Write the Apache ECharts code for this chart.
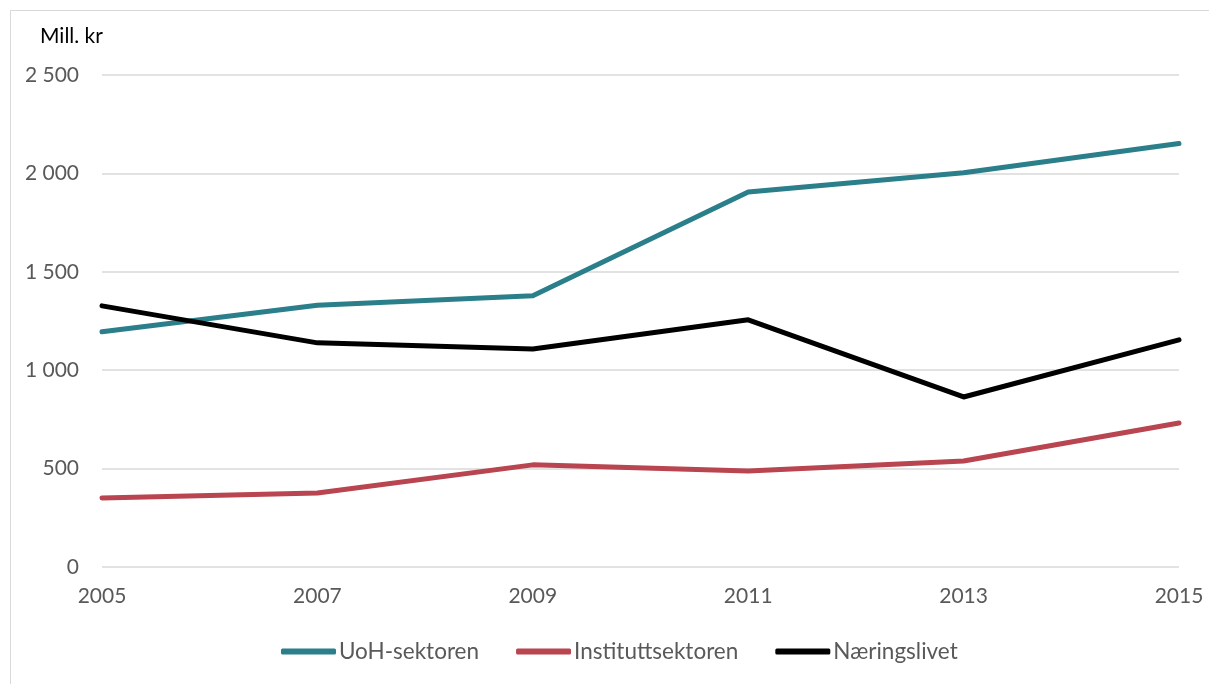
<!DOCTYPE html>
<html><head><meta charset="utf-8">
<script src="https://cdn.jsdelivr.net/npm/echarts@6/dist/echarts.min.js"></script>
<style>
html,body{margin:0;padding:0;background:#fff;}
#frame{position:absolute;left:10px;top:10px;width:1300px;height:800px;border:1.5px solid #d9d9d9;box-sizing:border-box;}
#c{position:absolute;left:0;top:0;width:1209px;height:684px;}
</style></head>
<body><div id="frame"></div><div id="c"></div>
<script>
const years = ['2005','2007','2009','2011','2013','2015'];
const uoh = [1195, 1330, 1378, 1905, 2003, 2152];
const institutt = [351, 376, 519, 488, 539, 732];
const naering = [1327, 1139, 1108, 1256, 864, 1154];
const seriesNames = ['UoH-sektoren','Instituttsektoren','Næringslivet'];
const colors = ['#2a7f8a','#b8454f','#000000'];
const font = 'Lato, "Open Sans", sans-serif';
const chart = echarts.init(document.getElementById('c'));
const mk = (name, data, color) => ({
  name, type:'line', data, symbol:'none', smooth:false,
  lineStyle:{width:5, color, cap:'round', join:'round'}, itemStyle:{color}
});
chart.setOption({
  animation:false,
  color: colors,
  grid:{left:102, right:30, top:75, bottom:117, containLabel:false},
  title:{text:'Mill. kr', left:35, top:21, textStyle:{fontFamily:font, fontSize:21, fontWeight:'normal', color:'#000'}},
  legend:{
    bottom:16, left:276, itemWidth:55, itemHeight:6, itemGap:37, icon:'roundRect',
    textStyle:{fontFamily:font, fontSize:22.5, color:'#595959', padding:[0,0,0,-2]},
    data: seriesNames
  },
  xAxis:{type:'category', data:years, boundaryGap:false,
    axisLine:{show:false}, axisTick:{show:false},
    axisLabel:{fontFamily:font, fontSize:21, color:'#595959', margin:19},
    splitLine:{show:false}},
  yAxis:{type:'value', min:0, max:2500, interval:500,
    axisLine:{show:false}, axisTick:{show:false},
    axisLabel:{fontFamily:font, fontSize:21, color:'#595959', margin:23,
      formatter: v => v >= 1000 ? Math.floor(v/1000) + ' ' + String(v%1000).padStart(3,'0') : String(v)},
    splitLine:{lineStyle:{color:'#d9d9d9', width:1.5}}},
  series:[mk(seriesNames[0], uoh, colors[0]), mk(seriesNames[1], institutt, colors[1]), mk(seriesNames[2], naering, colors[2])]
});
</script></body></html>
